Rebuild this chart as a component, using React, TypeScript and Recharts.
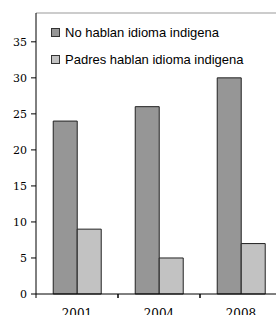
import React from "react";
import { BarChart, Bar, XAxis, YAxis, Legend, CartesianGrid } from "recharts";

const years = ["2001", "2004", "2008"];
const noHablan = [24, 26, 30];
const padresHablan = [9, 5, 7];
const yTicks = [0, 5, 10, 15, 20, 25, 30, 35];
const yMax = 39;
const seriesNames = ["No hablan idioma indigena", "Padres hablan idioma indigena"];
const colors = ["#969696", "#c2c2c2"];

const data = years.map((y, i) => ({ year: y, a: noHablan[i], b: padresHablan[i] }));

const LegendContent = () => (
  <div style={{ fontFamily: "'Liberation Sans', Arial, sans-serif", fontSize: 13, color: "#000", textAlign: "left" }}>
    {seriesNames.map((n, i) => (
      <div key={n} style={{ display: "flex", alignItems: "center", height: 27 }}>
        <span
          style={{
            display: "inline-block",
            width: 7,
            height: 7,
            background: colors[i],
            border: "1px solid #333",
            marginRight: 5,
          }}
        />
        <span>{n}</span>
      </div>
    ))}
  </div>
);

const XTick = (props: any) => {
  const { x, y, payload } = props;
  const half = payload && payload.offset ? payload.offset : 41;
  const axisY = y - 15;
  return (
    <g>
      <line x1={x - half} x2={x - half} y1={axisY} y2={axisY + 4} stroke="#000" />
      <line x1={x + half} x2={x + half} y1={axisY} y2={axisY + 4} stroke="#000" />
      <text x={x} y={y} dy="0.71em" textAnchor="middle" fill="#000" fontSize={12} fontFamily="'DejaVu Serif', serif">
        {payload.value}
      </text>
    </g>
  );
};

export default function App() {
  return (
    <div style={{ position: "fixed", left: 0, top: 0, background: "#fff", width: 276, height: 315, overflow: "hidden" }}>
      <BarChart
        width={330}
        height={330}
        data={data}
        margin={{ top: 13, right: 48, bottom: 0, left: 0 }}
        barCategoryGap="21%"
        barGap={0}
      >
        <CartesianGrid vertical={false} horizontalValues={[yMax]} stroke="#999" strokeDasharray="" />
        <XAxis
          dataKey="year"
          height={36}
          tickSize={4}
          tickMargin={11}
          axisLine={{ stroke: "#000" }}
          tickLine={false}
          tick={<XTick />}
          interval={0}
        />
        <YAxis
          width={36}
          domain={[0, yMax]}
          ticks={yTicks}
          tickSize={5}
          tickMargin={4}
          axisLine={{ stroke: "#000" }}
          tickLine={{ stroke: "#000" }}
          tick={{ fill: "#000", fontSize: 11, fontFamily: "'DejaVu Serif', serif" }}
        />
        <Legend
          layout="vertical"
          verticalAlign="middle"
          align="center"
          content={<LegendContent />}
          wrapperStyle={{ left: 51, top: 19, width: 220 }}
        />
        <Bar dataKey="a" fill={colors[0]} stroke="#222" strokeWidth={1} isAnimationActive={false} />
        <Bar dataKey="b" fill={colors[1]} stroke="#222" strokeWidth={1} isAnimationActive={false} />
      </BarChart>
    </div>
  );
}
